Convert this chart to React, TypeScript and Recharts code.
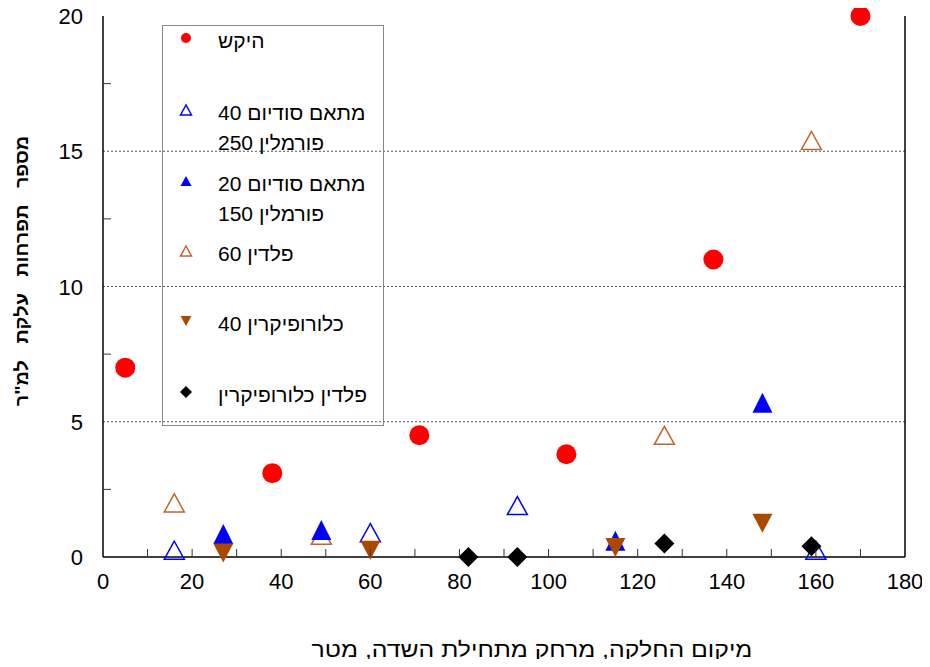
import React from "react";
import { ScatterChart, Scatter, XAxis, YAxis, ReferenceLine } from "recharts";

// x = plot position along the field (m), y = broomrape shoots per m2
const controlX = [5, 38, 71, 104, 137, 170];
const controlY = [7, 3.1, 4.5, 3.8, 11, 20];

const metam40X = [16, 60, 93, 160];
const metam40Y = [0.25, 0.9, 1.9, 0.25];

const metam20X = [27, 49, 115, 148];
const metam20Y = [0.85, 1.0, 0.6, 5.7];

const paldin60X = [16, 49, 126, 159];
const paldin60Y = [2.0, 0.8, 4.5, 15.4];

const chloro40X = [27, 60, 115, 148];
const chloro40Y = [0.15, 0.25, 0.35, 1.25];

const paldinChloroX = [82, 93, 126, 159];
const paldinChloroY = [0, 0, 0.5, 0.4];

const xTicks = [0, 10, 20, 30, 40, 50, 60, 70, 80, 90, 100, 110, 120, 130, 140, 150, 160, 170, 180];
const yTicks = [0, 2.5, 5, 7.5, 10, 12.5, 15, 17.5, 20];
const gridY = [5, 10, 15];

const xTitle = "מיקום החלקה, מרחק מתחילת השדה, מטר";
const yTitle = "מספר   תפרחות   עלקת   למ\"ר";

const toPoints = (xs: number[], ys: number[]) => xs.map((x, i) => ({ x, y: ys[i] }));

const FONT = "'Liberation Sans', Arial, sans-serif";
const BROWN_LIGHT = "#C0652A";
const BROWN_DARK = "#AA4A00";

const Circle = ({ cx, cy, fill, r = 10 }: any) => <circle cx={cx} cy={cy} r={r} fill={fill} />;

const TriUp = ({ cx, cy, fill, stroke, w = 20, h = 18 }: any) => (
  <polygon
    points={`${cx},${cy - h / 2} ${cx - w / 2},${cy + h / 2} ${cx + w / 2},${cy + h / 2}`}
    fill={fill}
    stroke={stroke}
    strokeWidth={stroke ? 1.5 : 0}
  />
);

const TriDown = ({ cx, cy, fill, w = 20, h = 19 }: any) => (
  <polygon points={`${cx - w / 2},${cy - h / 2} ${cx + w / 2},${cy - h / 2} ${cx},${cy + h / 2}`} fill={fill} />
);

const Diamond = ({ cx, cy, fill, s = 10 }: any) => (
  <polygon points={`${cx},${cy - s} ${cx + s},${cy} ${cx},${cy + s} ${cx - s},${cy}`} fill={fill} />
);

const XTick = ({ x, y, payload }: any) => {
  const v = payload.value;
  return (
    <g>
      {v > 0 && v < 180 && <line x1={x} x2={x} y1={y} y2={y - 8} stroke="#333" strokeWidth={1} />}
      {v % 20 === 0 && (
        <text x={x} y={y + 32} textAnchor="middle" fontSize={22} fontFamily={FONT} fill="#000">
          {v}
        </text>
      )}
    </g>
  );
};

const YTickLeft = ({ x, y, payload }: any) => {
  const v = payload.value;
  return (
    <g>
      {v % 5 !== 0 && <line x1={x} x2={x + 8} y1={y} y2={y} stroke="#333" strokeWidth={1} />}
      {v % 5 === 0 && (
        <text x={x - 20} y={y + 8} textAnchor="end" fontSize={22} fontFamily={FONT} fill="#000">
          {v}
        </text>
      )}
    </g>
  );
};

const YTickRight = ({ x, y, payload }: any) => {
  const v = payload.value;
  if (v % 5 === 0) return <g />;
  return <line x1={x} x2={x - 8} y1={y} y2={y} stroke="#333" strokeWidth={1} />;
};

const legendItems = [
  { lines: ["היקש"], y: 38, marker: <Circle cx={186} cy={38} r={5} fill="#FF0000" /> },
  {
    lines: ["מתאם סודיום 40", "פורמלין 250"],
    y: 110,
    marker: <TriUp cx={186} cy={110} w={11} h={10} fill="none" stroke="#0000FF" />,
  },
  {
    lines: ["מתאם סודיום 20", "פורמלין 150"],
    y: 181,
    marker: <TriUp cx={186} cy={181} w={11} h={10} fill="#0000FF" />,
  },
  { lines: ["פלדין 60"], y: 251, marker: <TriUp cx={186} cy={251} w={11} h={10} fill="none" stroke={BROWN_LIGHT} /> },
  { lines: ["כלורופיקרין 40"], y: 321, marker: <TriDown cx={186} cy={321} w={11} h={10} fill={BROWN_DARK} /> },
  { lines: ["פלדין כלורופיקרין"], y: 392, marker: <Diamond cx={186} cy={392} s={6} fill="#000" /> },
];

export default function App() {
  const axisLine = { stroke: "#000", strokeWidth: 1.5 };
  return (
    <div style={{ position: "relative", width: 930, height: 667, margin: -8, background: "#fff", fontFamily: FONT }}>
      <ScatterChart width={930} height={667} margin={{ top: 16, right: 0, bottom: 0, left: 0 }}>
        <XAxis
          type="number"
          dataKey="x"
          domain={[0, 180]}
          ticks={xTicks}
          interval={0}
          tick={<XTick />}
          tickLine={false}
          tickSize={0}
          tickMargin={0}
          height={110}
          axisLine={axisLine}
        />
        <XAxis xAxisId="top" type="number" orientation="top" domain={[0, 180]} height={0} tick={false} tickLine={false} axisLine={axisLine} />
        <YAxis
          type="number"
          dataKey="y"
          domain={[0, 20]}
          ticks={yTicks}
          interval={0}
          tick={<YTickLeft />}
          tickLine={false}
          tickSize={0}
          tickMargin={0}
          width={103}
          axisLine={axisLine}
        />
        <YAxis
          yAxisId="right"
          type="number"
          orientation="right"
          domain={[0, 20]}
          ticks={yTicks}
          interval={0}
          tick={<YTickRight />}
          tickLine={false}
          tickSize={0}
          tickMargin={0}
          width={25}
          axisLine={axisLine}
        />
        {gridY.map((g) => (
          <ReferenceLine key={g} y={g} stroke="#555" strokeDasharray="2 2" strokeWidth={1} />
        ))}
        <Scatter data={toPoints(controlX, controlY)} isAnimationActive={false} shape={(p: any) => <Circle {...p} fill="#FF0000" />} />
        <Scatter data={toPoints(paldin60X, paldin60Y)} isAnimationActive={false} shape={(p: any) => <TriUp {...p} fill="none" stroke={BROWN_LIGHT} />} />
        <Scatter data={toPoints(metam40X, metam40Y)} isAnimationActive={false} shape={(p: any) => <TriUp {...p} fill="none" stroke="#0000FF" />} />
        <Scatter data={toPoints(metam20X, metam20Y)} isAnimationActive={false} shape={(p: any) => <TriUp {...p} h={20} fill="#0000FF" />} />
        <Scatter data={toPoints(chloro40X, chloro40Y)} isAnimationActive={false} shape={(p: any) => <TriDown {...p} fill={BROWN_DARK} />} />
        <Scatter data={toPoints(paldinChloroX, paldinChloroY)} isAnimationActive={false} shape={(p: any) => <Diamond {...p} fill="#000" />} />
      </ScatterChart>

      {/* legend box */}
      <div style={{ position: "absolute", left: 162, top: 25, width: 220, height: 399, border: "1px solid #888" }} />
      <svg width={930} height={667} style={{ position: "absolute", left: 0, top: 0, pointerEvents: "none" }}>
        {legendItems.map((it, i) => (
          <g key={i}>{it.marker}</g>
        ))}
      </svg>
      {legendItems.map((it, i) =>
        it.lines.map((ln, j) => (
          <div
            key={`${i}-${j}`}
            dir="rtl"
            style={{
              position: "absolute",
              left: 218,
              top: it.y + 3 + j * 30 - 12,
              fontSize: 20,
              lineHeight: "24px",
              whiteSpace: "nowrap",
              color: "#000",
              transform: "scaleX(1.05)",
              transformOrigin: "left center",
            }}
          >
            {ln}
          </div>
        ))
      )}

      <div
        dir="rtl"
        style={{
          position: "absolute",
          left: 532,
          top: 650,
          transform: "translate(-50%, -50%) scaleX(1.18)",
          fontSize: 21,
          lineHeight: "24px",
          whiteSpace: "nowrap",
        }}
      >
        {xTitle}
      </div>
      <div
        dir="rtl"
        style={{
          position: "absolute",
          left: 22,
          top: 271,
          transform: "translate(-50%, -50%) rotate(-90deg) scaleX(1.1)",
          fontSize: 18,
          fontWeight: "bold",
          lineHeight: "20px",
          whiteSpace: "pre",
        }}
      >
        {yTitle}
      </div>
    </div>
  );
}
